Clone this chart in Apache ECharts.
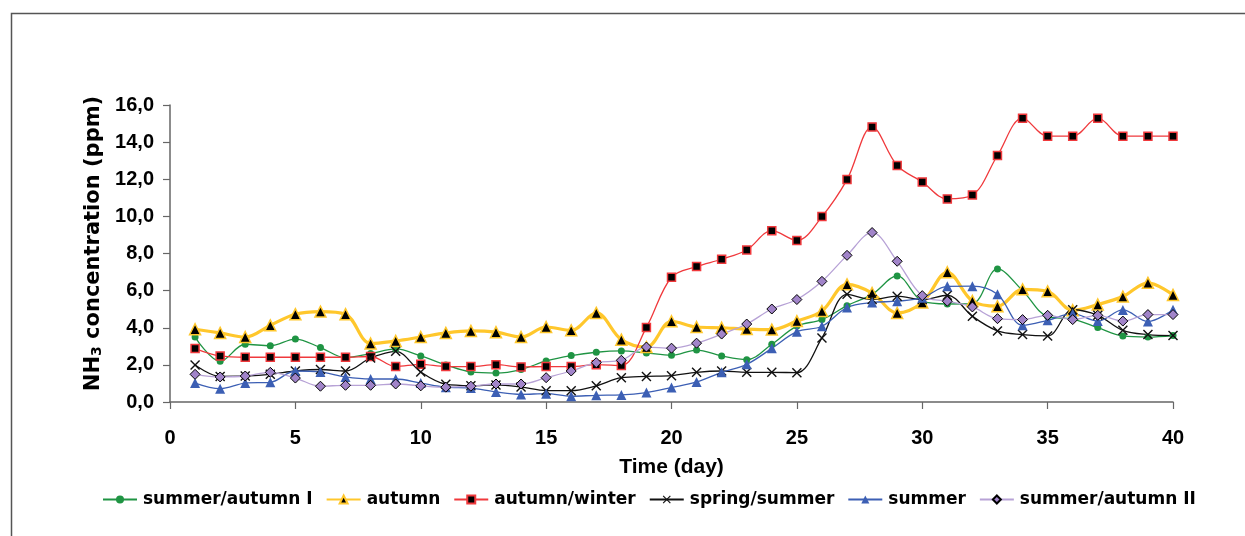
<!DOCTYPE html>
<html>
<head>
<meta charset="utf-8">
<script src="https://cdn.jsdelivr.net/npm/echarts@6/dist/echarts.min.js"></script>
<style>html,body{margin:0;padding:0;background:#fff;}#c{width:1245px;height:536px;}</style>
</head>
<body>
<div id="c"></div>
<script>
var days = [1,2,3,4,5,6,7,8,9,10,11,12,13,14,15,16,17,18,19,20,21,22,23,24,25,26,27,28,29,30,31,32,33,34,35,36,37,38,39,40];
var yTicks = [0,2,4,6,8,10,12,14,16];
var xTicks = [0,5,10,15,20,25,30,35,40];
var summerAutumnI = [3.5,2.19,3.11,3.03,3.39,2.93,2.39,2.61,2.86,2.48,2.0,1.62,1.56,1.75,2.21,2.5,2.68,2.75,2.64,2.52,2.8,2.48,2.28,3.11,4.09,4.44,5.19,5.8,6.79,5.43,5.28,5.3,7.17,6.0,4.6,4.47,4.01,3.56,3.5,3.58];
var autumn = [3.92,3.72,3.5,4.13,4.73,4.87,4.73,3.15,3.29,3.5,3.72,3.83,3.76,3.5,4.04,3.86,4.8,3.36,2.96,4.35,4.04,4.0,3.93,3.9,4.36,4.9,6.34,5.87,4.8,5.36,6.99,5.44,5.16,6.07,5.96,4.94,5.25,5.68,6.42,5.77];
var autumnWinter = [2.88,2.48,2.41,2.41,2.41,2.41,2.41,2.45,1.91,2.03,1.91,1.91,2.01,1.89,1.91,1.91,2.01,1.96,4.02,6.72,7.3,7.69,8.19,9.23,8.7,9.99,11.98,14.82,12.74,11.85,10.94,11.15,13.28,15.29,14.32,14.32,15.29,14.32,14.32,14.32];
var springSummer = [1.99,1.38,1.4,1.49,1.67,1.75,1.67,2.37,2.73,1.62,0.96,0.88,0.92,0.81,0.61,0.61,0.87,1.31,1.38,1.42,1.6,1.67,1.6,1.6,1.58,3.45,5.8,5.52,5.7,5.52,5.75,4.62,3.83,3.63,3.56,4.97,4.67,3.86,3.63,3.58];
var summer = [1.02,0.72,1.02,1.06,1.67,1.62,1.35,1.24,1.24,1.02,0.8,0.75,0.54,0.41,0.45,0.31,0.36,0.38,0.51,0.78,1.08,1.6,2.03,2.89,3.79,4.08,5.09,5.36,5.43,5.62,6.23,6.24,5.8,4.13,4.4,4.76,4.36,4.96,4.34,4.97];
var summerAutumnII = [1.49,1.35,1.4,1.6,1.29,0.85,0.9,0.9,0.97,0.87,0.8,0.85,0.97,0.97,1.31,1.67,2.12,2.25,2.96,2.9,3.17,3.66,4.2,5.01,5.52,6.5,7.9,9.13,7.58,5.73,5.43,5.12,4.49,4.44,4.67,4.44,4.67,4.36,4.71,4.71];
var seriesNames = ['summer/autumn I','autumn','autumn/winter','spring/summer','summer','summer/autumn II'];

function pairs(v){ return days.map(function(d,i){ return [d, v[i]]; }); }
var xSym = 'path://M0,1L1,0L5,4L9,0L10,1L6,5L10,9L9,10L5,6L1,10L0,9L4,5Z';
var SM = 0.35;
var chart = echarts.init(document.getElementById('c'));
chart.setOption({
  backgroundColor: '#fff',
  animation: false,
  graphic: [{type:'rect', shape:{x:11.5,y:13.5,width:1400,height:700}, style:{fill:'none', stroke:'#555', lineWidth:1.5}, silent:true}],
  grid: {left:170, right:72, top:105, bottom:134},
  xAxis: {
    type:'value', min:0, max:40, interval:5,
    name:'Time (day)', nameLocation:'middle', nameGap:55,
    nameTextStyle:{fontFamily:'Liberation Sans', fontWeight:'bold', fontSize:21, color:'#000'},
    axisLine:{show:true, lineStyle:{color:'#666', width:1.5}},
    axisTick:{show:true, length:7, lineStyle:{color:'#666', width:1.2}},
    axisLabel:{margin:26, fontFamily:'Liberation Sans', fontWeight:'bold', fontSize:20, color:'#000'},
    splitLine:{show:false}
  },
  yAxis: {
    type:'value', min:0, max:16, interval:2,
    name:'{a|NH}{s|3}{a| concentration (ppm)}', nameLocation:'middle', nameGap:62, nameRotate:90,
    nameTextStyle:{padding:[0,0,0,20], rich:{
      a:{fontFamily:'DejaVu Sans', fontWeight:'bold', fontSize:21, color:'#000'},
      s:{fontFamily:'DejaVu Sans', fontWeight:'bold', fontSize:14, color:'#000', verticalAlign:'bottom', padding:[6,0,0,0]}
    }},
    axisLine:{show:true, lineStyle:{color:'#666', width:1.5}},
    axisTick:{show:true, length:7, lineStyle:{color:'#666', width:1.2}},
    axisLabel:{margin:16, fontFamily:'Liberation Sans', fontWeight:'bold', fontSize:20, color:'#000',
      formatter:function(v){ return v.toFixed(1).replace('.', ','); }},
    splitLine:{show:false}
  },
  legend: {
    left:97, top:486, itemWidth:34, itemHeight:10, itemGap:13,
    textStyle:{fontFamily:'DejaVu Sans', fontWeight:'bold', fontSize:17, color:'#000', padding:[0,0,0,1]},
    data: seriesNames
  },
  series: [
    {name:seriesNames[0], type:'line', smooth:SM, data:pairs(summerAutumnI), symbol:'circle', symbolSize:7,
      lineStyle:{color:'#1f9443', width:1.3}, itemStyle:{color:'#1f9443', borderWidth:0}},
    {name:seriesNames[1], type:'line', smooth:SM, data:pairs(autumn), symbol:'triangle', symbolSize:11,
      lineStyle:{color:'#ffc72c', width:3.2}, itemStyle:{color:'#000', borderColor:'#ffc72c', borderWidth:1.5}},
    {name:seriesNames[2], type:'line', smooth:SM, data:pairs(autumnWinter), symbol:'rect', symbolSize:8,
      lineStyle:{color:'#f0393c', width:1.3}, itemStyle:{color:'#000', borderColor:'#f0393c', borderWidth:1.5}},
    {name:seriesNames[3], type:'line', smooth:SM, data:pairs(springSummer), symbol:xSym, symbolSize:10,
      lineStyle:{color:'#111', width:1.3}, itemStyle:{color:'#111', borderWidth:0}},
    {name:seriesNames[4], type:'line', smooth:SM, data:pairs(summer), symbol:'triangle', symbolSize:10,
      lineStyle:{color:'#3c5fb4', width:1.3}, itemStyle:{color:'#3c5fb4', borderWidth:0}},
    {name:seriesNames[5], type:'line', smooth:SM, data:pairs(summerAutumnII), symbol:'diamond', symbolSize:10,
      lineStyle:{color:'#b7a2d6', width:1.3}, itemStyle:{color:'#a184c9', borderColor:'#000', borderWidth:1}}
  ]
});
</script>
</body>
</html>
